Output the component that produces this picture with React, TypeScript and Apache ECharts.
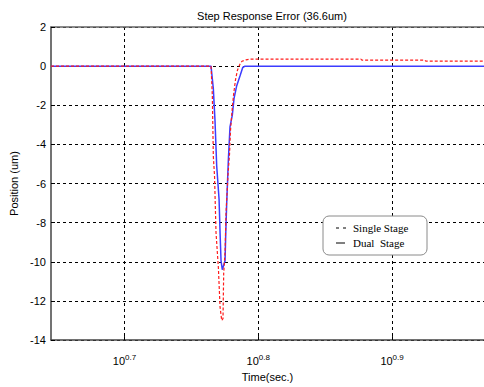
import React, { useEffect, useRef } from "react";
import * as echarts from "echarts";

// time in seconds
const blueT = [4.417, 5.817, 5.84, 5.857, 5.874, 5.898, 5.908, 5.918, 5.931, 5.959, 5.966, 5.976, 5.993, 6.01, 6.034, 6.052, 6.08, 6.114, 6.143, 6.167, 9.305];
const blueY = [0, 0, -1.15, -2.8, -5.1, -6.8, -8.5, -9.95, -10.4, -9.95, -8.6, -7.0, -4.8, -3.1, -2.5, -1.65, -1.0, -0.5, -0.07, 0, 0];

const redT = [4.417, 5.817, 5.83, 5.84, 5.852, 5.867, 5.891, 5.908, 5.925, 5.938, 5.945, 5.959, 5.969, 5.99, 6.005, 6.015, 6.031, 6.046, 6.067, 6.088, 6.114, 6.135, 6.178, 6.22, 7.528, 7.541, 8.403, 8.417, 9.305];
const redY = [0, 0, -1.5, -4.6, -5.6, -8.5, -10.3, -12.3, -13.0, -12.9, -10.6, -9.5, -7.5, -5.5, -4.5, -3.3, -2.3, -1.5, -0.7, -0.2, 0.1, 0.25, 0.32, 0.36, 0.36, 0.31, 0.31, 0.26, 0.26];

const xTickExps = [0.7, 0.8, 0.9];
const yTicks = [2, 0, -2, -4, -6, -8, -10, -12, -14];
const legendNames = ["Single Stage", "Dual  Stage"];

const X_MIN = 0.6451;
const X_MAX = 0.9687;

export default function App() {
  const ref = useRef<HTMLDivElement>(null);
  useEffect(() => {
    document.body.style.margin = "0";
    const chart = echarts.init(ref.current!, null, { renderer: "svg" });
    const font = "'Liberation Sans', Arial, sans-serif";
    const serif = "'Liberation Serif', 'Times New Roman', serif";
    chart.setOption({
      animation: false,
      backgroundColor: "#fff",
      title: {
        text: "Step Response Error (36.6um)",
        left: 267,
        top: 5,
        textAlign: "center",
        textStyle: { fontFamily: font, fontSize: 11, fontWeight: "normal", color: "#000" },
      },
      grid: { left: 51, right: 0, top: 27, bottom: 39, containLabel: false },
      xAxis: [
        {
          type: "value",
          min: X_MIN,
          max: X_MAX,
          name: "Time(sec.)",
          nameLocation: "middle",
          nameGap: 30,
          nameTextStyle: { fontFamily: font, fontSize: 11, color: "#000" },
          axisLine: { show: true, onZero: false, lineStyle: { color: "#444", width: 1.5 } },
          axisTick: { show: true, inside: true, length: 4, customValues: xTickExps, lineStyle: { color: "#000" } },
          axisLabel: {
            customValues: xTickExps,
            margin: 12,
            formatter: (v: number) => "{b|10}{s|" + (Math.round(v * 10) / 10).toFixed(1) + "}",
            rich: {
              b: { fontFamily: font, fontSize: 11, color: "#000", padding: [3, 0, 0, 0] },
              s: { fontFamily: font, fontSize: 8, color: "#000", padding: [0, 0, 3, 0] },
            },
          },
          splitLine: { show: true, lineStyle: { color: "#000", type: [3, 3], width: 1 } },
        },
        {
          type: "value",
          position: "top",
          min: X_MIN,
          max: X_MAX,
          axisLine: { show: true, onZero: false, lineStyle: { color: "#666", width: 1.5 } },
          axisTick: { show: false },
          axisLabel: { show: false },
          splitLine: { show: false },
        },
      ],
      yAxis: {
        type: "value",
        min: -14,
        max: 2,
        interval: 2,
        name: "Position (um)",
        nameLocation: "middle",
        nameGap: 29,
        nameTextStyle: { fontFamily: font, fontSize: 11, color: "#000" },
        axisLine: { show: true, onZero: false, lineStyle: { color: "#444", width: 1.5 } },
        axisTick: { show: true, inside: true, length: 4, lineStyle: { color: "#000" } },
        axisLabel: {
          margin: 5,
          fontFamily: font,
          fontSize: 11,
          color: "#000",
          formatter: (v: number) => (yTicks.includes(v) ? String(v) : ""),
        },
        splitLine: { show: true, lineStyle: { color: "#000", type: [3, 3], width: 1 } },
      },
      series: [
        {
          name: legendNames[1],
          type: "line",
          data: blueT.map((t, i) => [Math.log10(t), blueY[i]]),
          showSymbol: false,
          lineStyle: { color: "#3c3cff", width: 1.5 },
          z: 3,
        },
        {
          name: legendNames[0],
          type: "line",
          data: redT.map((t, i) => [Math.log10(t), redY[i]]),
          showSymbol: false,
          lineStyle: { color: "#ff1a1a", width: 1.2, type: [3, 2] },
          z: 4,
        },
      ],
      graphic: [
        {
          type: "rect",
          shape: { x: 323, y: 216, width: 104, height: 39, r: 6 },
          style: { fill: "#fff", stroke: "#8a8a8a", lineWidth: 1 },
          z: 100,
        },
        {
          type: "line",
          shape: { x1: 336, y1: 228, x2: 346, y2: 228 },
          style: { stroke: "#000", lineWidth: 1, lineDash: [3, 4] },
          z: 101,
        },
        {
          type: "line",
          shape: { x1: 336, y1: 243, x2: 345, y2: 243 },
          style: { stroke: "#000", lineWidth: 1 },
          z: 101,
        },
        {
          type: "text",
          x: 353,
          y: 228,
          style: { text: legendNames[0], font: "11px " + serif, fill: "#000", textVerticalAlign: "middle" },
          z: 101,
        },
        {
          type: "text",
          x: 353,
          y: 243,
          style: { text: legendNames[1], font: "11px " + serif, fill: "#000", textVerticalAlign: "middle" },
          z: 101,
        },
      ],
    });
    return () => chart.dispose();
  }, []);
  return <div ref={ref} style={{ width: 484, height: 387 }} />;
}
